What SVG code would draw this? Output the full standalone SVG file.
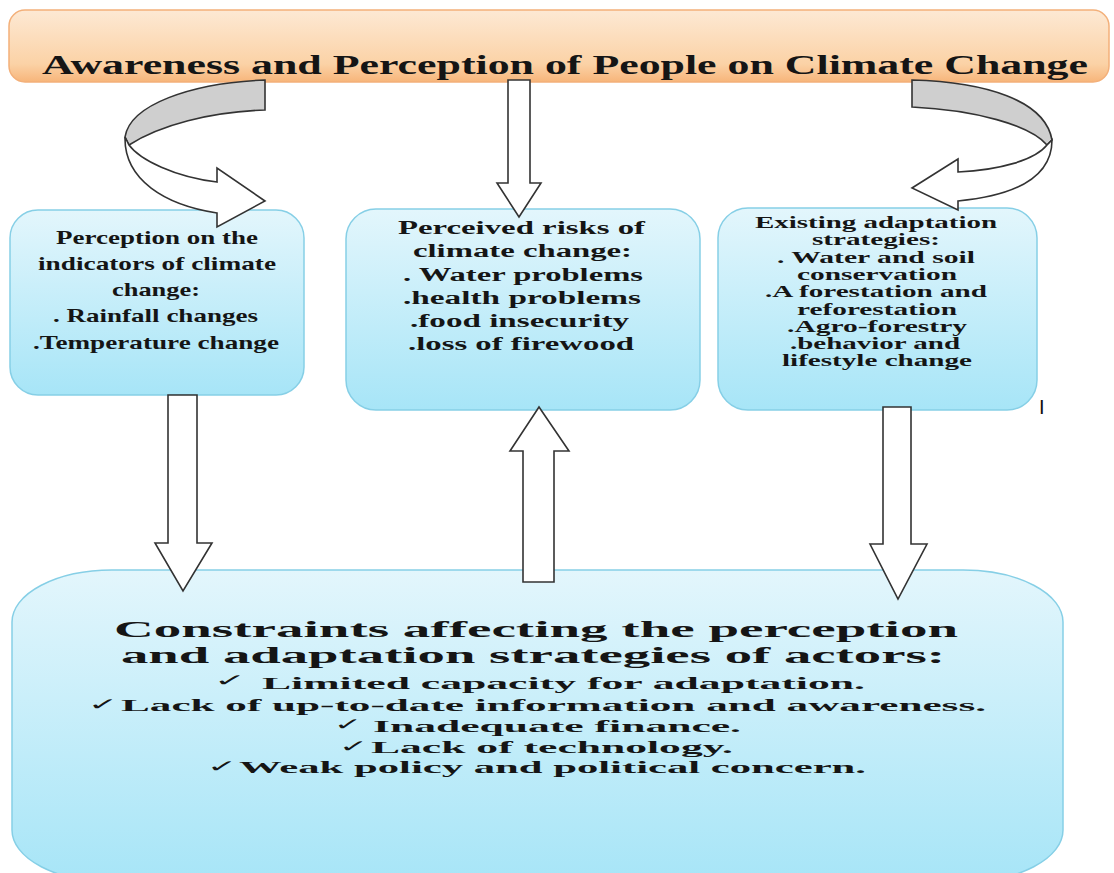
<svg xmlns="http://www.w3.org/2000/svg" width="1114" height="873" viewBox="0 0 1114 873">
<defs>
<linearGradient id="gBlue" x1="0" y1="0" x2="0" y2="1">
<stop offset="0" stop-color="#e3f6fc"/>
<stop offset="1" stop-color="#a7e5f7"/>
</linearGradient>
<linearGradient id="gOrange" x1="0" y1="0" x2="0" y2="1">
<stop offset="0" stop-color="#fde9d4"/>
<stop offset="0.75" stop-color="#fbd2a6"/>
<stop offset="1" stop-color="#f7b57a"/>
</linearGradient>
<style>
.box{fill:url(#gBlue);stroke:#86cfe6;stroke-width:1.5}
.t{font-family:"Liberation Serif","Times New Roman",serif;font-weight:bold;fill:#151515}
.ck{font-family:"DejaVu Sans",sans-serif;fill:#151515}
.arr{fill:#ffffff;stroke:#333333;stroke-width:1.6;stroke-linejoin:miter}
.band{fill:#cfcfcf;stroke:#333333;stroke-width:1.6}
</style>
</defs>
<rect width="1114" height="873" fill="#ffffff"/>

<g id="node-title">
<rect x="9" y="10" width="1100" height="72" rx="16" fill="url(#gOrange)" stroke="#f3b07a" stroke-width="1.5"/>
<text class="t" x="42" y="74" font-size="27" textLength="1046" lengthAdjust="spacingAndGlyphs">Awareness and Perception of People on Climate Change</text>
</g>

<g id="node-indicators">
<rect class="box" x="10" y="210" width="294" height="185" rx="28"/>
<g class="t" font-size="19">
<text x="56" y="244" textLength="202" lengthAdjust="spacingAndGlyphs">Perception on the</text>
<text x="38" y="270" textLength="238" lengthAdjust="spacingAndGlyphs">indicators of climate</text>
<text x="112" y="296" textLength="88" lengthAdjust="spacingAndGlyphs">change:</text>
<text x="53" y="322" textLength="205" lengthAdjust="spacingAndGlyphs">. Rainfall changes</text>
<text x="33" y="349" textLength="246" lengthAdjust="spacingAndGlyphs">.Temperature change</text>
</g>
</g>

<g id="node-risks">
<rect class="box" x="346" y="209" width="354" height="201" rx="30"/>
<g class="t" font-size="18">
<text x="398" y="234" textLength="247" lengthAdjust="spacingAndGlyphs">Perceived risks of</text>
<text x="413" y="257" textLength="219" lengthAdjust="spacingAndGlyphs">climate change:</text>
<text x="403" y="281" textLength="240" lengthAdjust="spacingAndGlyphs">. Water problems</text>
<text x="403" y="304" textLength="238" lengthAdjust="spacingAndGlyphs">.health problems</text>
<text x="410" y="327" textLength="219" lengthAdjust="spacingAndGlyphs">.food insecurity</text>
<text x="408" y="350" textLength="226" lengthAdjust="spacingAndGlyphs">.loss of firewood</text>
</g>
</g>

<g id="node-strategies">
<rect class="box" x="718" y="208" width="319" height="202" rx="30"/>
<g class="t" font-size="16">
<text x="755" y="228" textLength="242" lengthAdjust="spacingAndGlyphs">Existing adaptation</text>
<text x="812" y="245" textLength="128" lengthAdjust="spacingAndGlyphs">strategies:</text>
<text x="777" y="263" textLength="198" lengthAdjust="spacingAndGlyphs">. Water and soil</text>
<text x="797" y="280" textLength="160" lengthAdjust="spacingAndGlyphs">conservation</text>
<text x="765" y="297" textLength="222" lengthAdjust="spacingAndGlyphs">.A forestation and</text>
<text x="797" y="315" textLength="160" lengthAdjust="spacingAndGlyphs">reforestation</text>
<text x="787" y="332" textLength="180" lengthAdjust="spacingAndGlyphs">.Agro-forestry</text>
<text x="790" y="349" textLength="170" lengthAdjust="spacingAndGlyphs">.behavior and</text>
<text x="782" y="366" textLength="190" lengthAdjust="spacingAndGlyphs">lifestyle change</text>
</g>
<text x="1039" y="414" font-family="Liberation Sans, Arial, sans-serif" font-size="20" fill="#111">I</text>
</g>

<g id="node-constraints">
<rect class="box" x="12" y="570" width="1051" height="312" rx="100" ry="52"/>
<g class="t">
<text x="114" y="637" font-size="23" textLength="844" lengthAdjust="spacingAndGlyphs">Constraints affecting the perception</text>
<text x="121" y="663" font-size="23" textLength="824" lengthAdjust="spacingAndGlyphs">and adaptation strategies of actors:</text>
<text x="262" y="689" font-size="17" textLength="603" lengthAdjust="spacingAndGlyphs">Limited capacity for adaptation.</text>
<text x="121" y="711" font-size="17" textLength="865" lengthAdjust="spacingAndGlyphs">Lack of up-to-date information and awareness.</text>
<text x="373" y="732" font-size="17" textLength="368" lengthAdjust="spacingAndGlyphs">Inadequate finance.</text>
<text x="371" y="753" font-size="17" textLength="362" lengthAdjust="spacingAndGlyphs">Lack of technology.</text>
<text x="239" y="773" font-size="17" textLength="627" lengthAdjust="spacingAndGlyphs">Weak policy and political concern.</text>
</g>
<g class="ck" font-size="17">
<text x="214" y="686" textLength="32" lengthAdjust="spacingAndGlyphs">✓</text>
<text x="88" y="710" textLength="30" lengthAdjust="spacingAndGlyphs">✓</text>
<text x="334" y="730" textLength="28" lengthAdjust="spacingAndGlyphs">✓</text>
<text x="339" y="752" textLength="29" lengthAdjust="spacingAndGlyphs">✓</text>
<text x="207" y="772" textLength="30" lengthAdjust="spacingAndGlyphs">✓</text>
</g>
</g>

<g id="connectors">
<!-- left curved arrow: title to indicators -->
<path class="band" d="M265,80 L265,110 C210,112 160,125 129,145 L125,137 C130,105 190,83 265,80 Z"/>
<path class="arr" d="M129,145 C140,160 175,177 217,182 L217,168 L265,201 L217,227 L217,213 C165,205 124,180 125,137 Z"/>
<!-- right curved arrow: title to strategies -->
<path class="band" d="M912,80 C985,82 1045,100 1052,140 L1047,145 C1030,125 975,110 912,107 Z"/>
<path class="arr" d="M1047,145 C1035,160 1000,170 958,172 L958,159 L912,188 L958,210 L958,201 C1010,196 1052,180 1052,140 Z"/>
<!-- middle down arrow: title to risks -->
<path class="arr" d="M508,80 L530,80 L530,183 L541,183 L519,217 L497,183 L508,183 Z"/>
<!-- left down arrow: indicators to constraints -->
<path class="arr" d="M168,395 L197,395 L197,543 L212,543 L183,591 L155,543 L168,543 Z"/>
<!-- middle up arrow: constraints to risks -->
<path class="arr" d="M523,582 L554,582 L554,451 L569,451 L539,407 L510,451 L523,451 Z"/>
<!-- right down arrow: strategies to constraints -->
<path class="arr" d="M883,407 L911,407 L911,544 L927,544 L898,599 L870,544 L883,544 Z"/>
</g>
</svg>
